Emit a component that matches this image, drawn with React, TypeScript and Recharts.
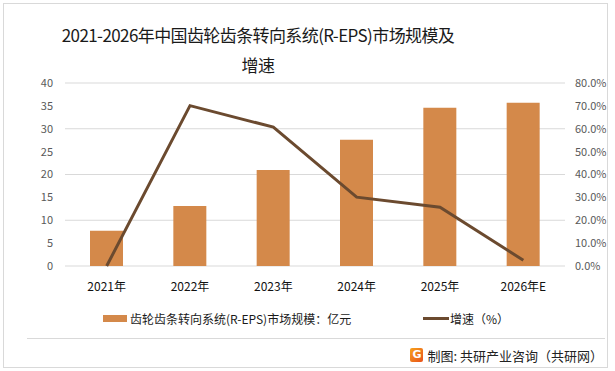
import { ComposedChart, Bar, Line, XAxis, YAxis, CartesianGrid } from "recharts";

const years = ["2021年", "2022年", "2023年", "2024年", "2025年", "2026年E"];
const marketSize = [7.7, 13.1, 21.0, 27.6, 34.6, 35.7];
const growthRate = [0, 70.1, 60.7, 30.1, 25.7, 2.5];
const leftTicks = [0, 5, 10, 15, 20, 25, 30, 35, 40];
const rightTicks = [0, 10, 20, 30, 40, 50, 60, 70, 80];

const BAR_COLOR = "#D4894A";
const LINE_COLOR = "#6B4A2F";
const FONT = "'Noto Sans CJK SC', 'Noto Sans', sans-serif";

const data = years.map((year, i) => ({
  year,
  size: marketSize[i],
  growth: growthRate[i],
}));

export default function App() {
  return (
    <div
      style={{
        position: "absolute",
        left: 0,
        top: 0,
        width: 615,
        height: 371,
        background: "#fff",
        fontFamily: FONT,
        overflow: "hidden",
      }}
    >
      {/* frame */}
      <div
        style={{
          position: "absolute",
          left: 3,
          top: 3,
          width: 603,
          height: 363,
          border: "1px solid #d9d9d9",
        }}
      />
      <div
        style={{
          position: "absolute",
          left: 27,
          top: 338,
          width: 578,
          height: 1,
          background: "#d9d9d9",
        }}
      />

      {/* title */}
      <div
        style={{
          position: "absolute",
          left: 0,
          top: 20,
          width: 516,
          textAlign: "center",
          fontSize: 17,
          lineHeight: "30px",
          color: "#1a1a1a",
          letterSpacing: -0.6,
        }}
      >
        2021-2026年中国齿轮齿条转向系统(R-EPS)市场规模及
        <br />
        增速
      </div>

      <div style={{ position: "absolute", left: 0, top: 0 }}>
        <ComposedChart
          width={615}
          height={340}
          data={data}
          margin={{ top: 83, right: 0, left: 0, bottom: 44 }}
          barCategoryGap="30%"
        >
          <CartesianGrid yAxisId="left" vertical={false} stroke="#d9d9d9" />
          <XAxis
            dataKey="year"
            height={30}
            axisLine={false}
            tickLine={false}
            tickSize={0}
            tickMargin={16}
            tick={{ fill: "#111", fontSize: 12, fontFamily: FONT }}
            interval={0}
          />
          <YAxis
            yAxisId="left"
            width={65}
            domain={[0, 40]}
            ticks={leftTicks}
            axisLine={false}
            tickLine={false}
            tickSize={0}
            tickMargin={12}
            tick={{ fill: "#595959", fontSize: 11, fontFamily: FONT }}
          />
          <YAxis
            yAxisId="right"
            orientation="right"
            width={50}
            domain={[0, 80]}
            ticks={rightTicks}
            axisLine={false}
            tickLine={false}
            tickSize={0}
            tickMargin={10}
            tickFormatter={(v: number) => v.toFixed(1) + "%"}
            tick={{ fill: "#595959", fontSize: 11, fontFamily: FONT, textAnchor: "start" }}
          />
          <Bar yAxisId="left" dataKey="size" fill={BAR_COLOR} isAnimationActive={false} />
          <Line
            yAxisId="right"
            dataKey="growth"
            type="linear"
            stroke={LINE_COLOR}
            strokeWidth={3}
            dot={false}
            activeDot={false}
            isAnimationActive={false}
          />
        </ComposedChart>
      </div>

      {/* legend */}
      <div
        style={{
          position: "absolute",
          left: 103,
          top: 308,
          height: 20,
          display: "flex",
          alignItems: "center",
          fontSize: 12,
          color: "#1a1a1a",
          whiteSpace: "nowrap",
        }}
      >
        <span style={{ width: 24, height: 7, background: BAR_COLOR, marginRight: 3 }} />
        <span>齿轮齿条转向系统(R-EPS)市场规模：亿元</span>
      </div>
      <div
        style={{
          position: "absolute",
          left: 423,
          top: 308,
          height: 20,
          display: "flex",
          alignItems: "center",
          fontSize: 12,
          color: "#1a1a1a",
          whiteSpace: "nowrap",
        }}
      >
        <span style={{ width: 26, height: 3, background: LINE_COLOR, marginRight: 1 }} />
        <span>增速（%）</span>
      </div>

      {/* source */}
      <div
        style={{
          position: "absolute",
          right: 12,
          top: 345,
          height: 20,
          display: "flex",
          alignItems: "center",
          fontSize: 13,
          color: "#222",
          whiteSpace: "nowrap",
        }}
      >
        <span
          style={{
            width: 13,
            height: 14,
            borderRadius: 2,
            background: "linear-gradient(135deg, #f7a21b, #e8511c)",
            color: "#fff",
            fontSize: 11,
            fontWeight: 700,
            lineHeight: "14px",
            textAlign: "center",
            marginRight: 4,
            fontFamily: "'DejaVu Sans', sans-serif",
          }}
        >
          G
        </span>
        <span>制图: 共研产业咨询（共研网）</span>
      </div>
    </div>
  );
}
